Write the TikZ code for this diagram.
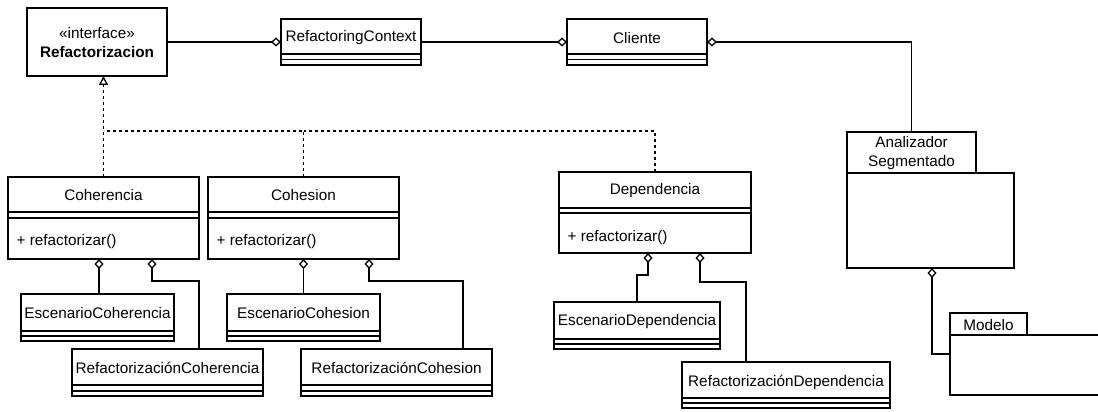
\documentclass[tikz,border=0pt]{standalone}
\usepackage{fontspec}
\setmainfont{Liberation Sans}
\usetikzlibrary{arrows.meta}
% class/package box: name, x1, y1, x2, y2 (pixel-like units, y downward)
\newcommand{\umlbox}[5]{\node[box, minimum width={(#4)-(#2)}, minimum height={(#5)-(#3)}] (#1) at (#2,#3) {};}
% empty attribute/method compartments under a name row
\newcommand{\umlrule}[3]{\draw (#1.west |- 0,#2) -- (#1.east |- 0,#2); \draw (#1.west |- 0,#3) -- (#1.east |- 0,#3);}
\begin{document}
\begin{tikzpicture}[x=1pt, y=-1pt, line width=1.3pt,
  box/.style={draw, rectangle, anchor=north west, inner sep=0pt, outer sep=0pt},
  lbl/.style={inner sep=0pt, font=\fontsize{15.3}{19}\selectfont, align=center},
  agg/.style={-{Diamond[open, length=10pt, width=9pt]}},
  aggs/.style={{Diamond[open, length=10pt, width=9pt]}-},
  realize/.style={dash pattern=on 3pt off 3pt},
  realizetip/.style={realize, -{Triangle[open, length=9pt, width=9pt]}}]
\useasboundingbox (0,0) rectangle (1098,412);

% interface and context classes
\umlbox{iface}{27}{8}{167}{76}
\node[lbl] (ifacest) at (97,33) {«interface»};
\node[lbl] (ifacenm) at (97,52) {\bfseries Refactorizacion};

\umlbox{rc}{281}{19}{421}{65}
\umlrule{rc}{54}{59.5}
\node[lbl] (rcnm) at (351,38) {RefactoringContext};

\umlbox{cli}{567}{19}{707}{65}
\umlrule{cli}{54}{59.5}
\node[lbl] (clinm) at (637,38) {Cliente};

% packages
\umlbox{anatab}{847}{132}{976}{173}
\umlbox{anabody}{847}{173}{1014}{268}
\node[lbl] (ananm) at (911.5,153.5) {Analizador\\Segmentado};

\umlbox{modtab}{950}{313}{1027}{335}
\umlbox{modbody}{950}{335}{1112}{395}
\node[lbl] (modnm) at (988.5,325) {Modelo};

% concrete strategies
\umlbox{coh}{8}{177}{199}{259}
\umlrule{coh}{212}{218}
\node[lbl] (cohnm) at (103.5,195) {Coherencia};
\node[lbl, anchor=west] (cohop) at (16,242) {+ refactorizar()};

\umlbox{cohe}{208}{177}{399}{259}
\umlrule{cohe}{212}{218}
\node[lbl] (cohenm) at (303.5,195) {Cohesion};
\node[lbl, anchor=west] (coheop) at (216,242) {+ refactorizar()};

\umlbox{dep}{559}{172}{751}{253}
\umlrule{dep}{208}{213}
\node[lbl] (depnm) at (655,191) {Dependencia};
\node[lbl, anchor=west] (depop) at (567,238) {+ refactorizar()};

% scenario and refactoring parts
\umlbox{esccoh}{21}{294}{174}{341}
\umlrule{esccoh}{331}{336}
\node[lbl] (esccohnm) at (97.5,313) {EscenarioCoherencia};

\umlbox{refcoh}{72}{349}{263}{396}
\umlrule{refcoh}{385}{391}
\node[lbl] (refcohnm) at (167.5,368) {RefactorizaciónCoherencia};

\umlbox{esccohe}{227}{294}{380}{341}
\umlrule{esccohe}{331}{336}
\node[lbl] (esccohenm) at (303.5,313) {EscenarioCohesion};

\umlbox{refcohe}{301}{349}{492}{396}
\umlrule{refcohe}{385}{391}
\node[lbl] (refcohenm) at (396.5,368) {RefactorizaciónCohesion};

\umlbox{escdep}{554}{302}{720}{349}
\umlrule{escdep}{339}{344}
\node[lbl] (escdepnm) at (637,322) {EscenarioDependencia};

\umlbox{refdep}{682}{362}{890}{408}
\umlrule{refdep}{398}{403}
\node[lbl] (refdepnm) at (786,382) {RefactorizaciónDependencia};

% aggregations along the top row
\draw[agg] (iface.east) -- (rc.west);
\draw[agg] (rc.east) -- (cli.west);
\draw[aggs] (cli.east) -| (anatab.north);
\coordinate (a1) at ([xshift=85pt]anabody.south west);
\coordinate (bend) at (0,354);
\draw[aggs] (a1) |- (modbody.west |- bend);

% realizations of the interface
\coordinate (bus) at (0,131);
\draw[realizetip] (coh.north) -- (coh.north |- iface.south);
\draw[realize] (cohe.north) |- (coh.north |- bus);
\draw[realize] (dep.north) |- (cohe.north |- bus);

% parts of each strategy
\coordinate (c1) at ([xshift=91pt]coh.south west);
\coordinate (c2) at ([xshift=144pt]coh.south west);
\draw[aggs] (c1) -- (c1 |- esccoh.north);
\draw[aggs] (c2) -- ++(0,22) -| ([xshift=127pt]refcoh.north west);

\coordinate (c4) at ([xshift=161pt]cohe.south west);
\draw[aggs] (cohe.south) -- (cohe.south |- esccohe.north);
\draw[aggs] (c4) -- ++(0,22) -| ([xshift=162pt]refcohe.north west);

\coordinate (c5) at ([xshift=89pt]dep.south west);
\coordinate (c6) at ([xshift=141pt]dep.south west);
\draw[aggs] (c5) -- ++(0,22) -| (escdep.north);
\draw[aggs] (c6) -- ++(0,29) -| ([xshift=64pt]refdep.north west);
\end{tikzpicture}
\end{document}
